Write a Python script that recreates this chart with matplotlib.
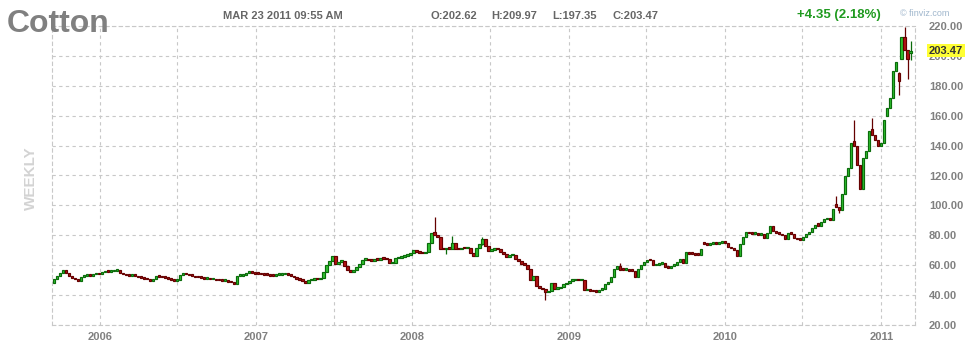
import matplotlib
matplotlib.use("Agg")
import matplotlib.pyplot as plt
import matplotlib.dates as mdates
import pandas as pd

# weekly cotton candles, Sep 2005 .. Mar 2011
opens = [
    48.0, 51.0, 53.0, 55.0, 56.5, 55.0, 53.0, 51.5, 50.5, 49.2,
    52.4, 52.8, 53.4, 53.0, 53.8, 54.3, 54.0, 55.2, 55.6, 55.4,
    56.0, 56.3, 56.8, 55.0, 54.0, 53.2, 52.8, 53.4, 53.0, 52.0,
    51.5, 51.0, 50.6, 49.6, 51.0, 52.6, 52.2, 52.0, 51.6, 51.0,
    50.4, 49.4, 50.2, 53.6, 54.0, 53.8, 53.2, 52.8, 52.0, 51.8,
    51.4, 51.0, 51.2, 50.6, 50.8, 50.0, 49.8, 49.6, 49.8, 49.0,
    48.6, 47.6, 52.8, 53.0, 53.6, 55.0, 56.0, 55.0, 54.4, 54.2,
    53.8, 53.6, 53.4, 53.0, 52.8, 53.4, 53.6, 53.8, 54.0, 53.6,
    53.0, 52.0, 51.0, 50.4, 49.6, 48.4, 49.8, 50.4, 50.8, 50.6,
    51.2, 55.6, 59.8, 62.6, 66.0, 61.0, 62.2, 62.6, 59.2, 57.0,
    55.6, 57.0, 58.5, 61.0, 63.8, 64.0, 63.2, 63.0, 63.6, 63.4,
    64.4, 64.2, 64.0, 61.2, 61.6, 64.6, 65.0, 65.6, 66.4, 67.0,
    68.2, 70.0, 68.6, 68.4, 68.0, 69.0, 75.0, 82.4, 80.4, 78.6,
    71.0, 70.6, 71.4, 70.8, 74.6, 71.0, 70.6, 71.6, 71.2, 71.8,
    68.0, 66.4, 71.8, 74.0, 77.6, 72.6, 69.8, 70.4, 70.8, 70.6,
    68.8, 67.6, 65.4, 66.6, 67.0, 64.2, 62.6, 61.0, 60.2, 57.2,
    50.0, 53.0, 46.4, 44.6, 43.8, 41.8, 42.8, 48.0, 44.0, 44.6,
    45.2, 47.2, 48.4, 49.6, 49.8, 50.4, 50.0, 50.2, 43.2, 44.0,
    43.0, 42.6, 42.2, 43.6, 44.0, 47.2, 48.8, 51.8, 57.2, 59.6,
    57.0, 56.8, 57.2, 56.4, 56.2, 52.0, 57.4, 60.0, 62.0, 63.6,
    63.2, 59.8, 60.2, 61.0, 61.8, 58.6, 58.2, 59.4, 60.2, 62.0,
    64.2, 61.2, 68.6, 67.8, 67.4, 67.0, 66.8, 74.6, 74.2, 73.8,
    74.2, 74.6, 74.2, 75.0, 75.4, 74.8, 72.0, 71.4, 70.0, 66.2,
    74.0, 78.6, 82.0, 81.4, 81.0, 81.6, 80.2, 80.8, 78.2, 81.4,
    86.0, 83.0, 81.8, 81.0, 80.0, 77.4, 81.8, 81.0, 78.4, 77.4,
    77.0, 79.0, 80.6, 82.4, 84.6, 88.0, 86.4, 88.6, 90.6, 91.8,
    90.2, 101.2, 98.8, 97.2, 107.3, 119.6, 125.1, 142.9, 139.6, 127.3,
    111.1, 131.8, 136.2, 151.1, 147.3, 144.0, 140.0, 141.8, 159.6, 165.1,
    171.8, 189.6, 188.4, 198.0, 212.4, 204.0, 202.2,
]
closes = [
    51.0, 53.0, 55.0, 56.5, 55.0, 53.0, 51.5, 50.5, 49.2, 52.4,
    52.8, 53.4, 53.0, 53.8, 54.3, 54.0, 55.2, 55.6, 55.4, 56.0,
    56.3, 56.8, 55.0, 54.0, 53.2, 52.8, 53.4, 53.0, 52.0, 51.5,
    51.0, 50.6, 49.6, 51.0, 52.6, 52.2, 52.0, 51.6, 51.0, 50.4,
    49.4, 50.2, 53.6, 54.0, 53.8, 53.2, 52.8, 52.0, 51.8, 51.4,
    51.0, 51.2, 50.6, 50.8, 50.0, 49.8, 49.6, 49.8, 49.0, 48.6,
    47.6, 52.8, 53.0, 53.6, 55.0, 56.0, 55.0, 54.4, 54.2, 53.8,
    53.6, 53.4, 53.0, 52.8, 53.4, 53.6, 53.8, 54.0, 53.6, 53.0,
    52.0, 51.0, 50.4, 49.6, 48.4, 49.8, 50.4, 50.8, 50.6, 51.2,
    55.6, 59.8, 62.6, 66.0, 61.0, 62.2, 62.6, 59.2, 57.0, 55.6,
    57.0, 58.5, 61.0, 63.8, 64.0, 63.2, 63.0, 63.6, 63.4, 64.4,
    64.2, 64.0, 61.2, 61.6, 64.6, 65.0, 65.6, 66.4, 67.0, 68.2,
    70.0, 68.6, 68.4, 68.0, 69.0, 75.0, 81.6, 80.4, 78.6, 71.0,
    70.6, 71.4, 70.8, 74.6, 71.0, 70.6, 71.6, 71.2, 71.8, 68.0,
    66.4, 71.8, 74.0, 77.6, 72.6, 69.8, 70.4, 70.8, 70.6, 68.8,
    67.6, 65.4, 66.6, 67.0, 64.2, 62.6, 61.0, 60.2, 57.2, 50.0,
    53.0, 46.4, 44.6, 43.8, 41.8, 42.8, 48.0, 44.0, 44.6, 45.2,
    47.2, 48.4, 49.6, 49.8, 50.4, 50.0, 50.2, 43.2, 44.0, 43.0,
    42.6, 42.2, 43.6, 44.0, 47.2, 48.8, 51.8, 57.2, 59.6, 57.0,
    56.8, 57.2, 56.4, 56.2, 52.0, 57.4, 60.0, 62.0, 63.6, 63.2,
    59.8, 60.2, 61.0, 61.8, 58.6, 58.2, 59.4, 60.2, 62.0, 64.2,
    61.2, 68.6, 67.8, 67.4, 67.0, 66.8, 70.6, 74.2, 73.8, 74.2,
    74.6, 74.2, 75.0, 75.4, 74.8, 72.0, 71.4, 70.0, 66.2, 74.0,
    78.6, 82.0, 81.4, 81.0, 81.6, 80.2, 80.8, 78.2, 81.4, 86.0,
    83.0, 81.8, 81.0, 80.0, 77.4, 81.8, 81.0, 78.4, 77.4, 77.0,
    79.0, 80.6, 82.4, 84.6, 86.8, 86.4, 88.6, 90.6, 91.8, 90.2,
    97.8, 98.8, 97.2, 107.3, 119.6, 125.1, 141.8, 139.6, 127.3, 111.1,
    131.8, 136.2, 149.6, 147.3, 144.0, 140.0, 141.8, 157.3, 165.1, 171.8,
    189.6, 196.2, 182.9, 212.4, 204.0, 197.8, 203.5,
]
# visible wicks only: bar index -> (high, low)
wicks = {
    127: (92.4, 80.0), 131: (71.6, 67.3), 133: (79.4, 70.6), 143: (79.0, 73.8),
    164: (43.0, 36.5), 189: (61.8, 56.6), 261: (106.0, 98.6), 262: (99.0, 95.0),
    267: (157.3, 139.4), 273: (158.4, 147.0), 282: (189.0, 174.0),
    284: (219.6, 203.8), 285: (204.2, 184.4), 286: (210.0, 197.3),
}
first_week = "2005-09-16"
year_labels = ["2006", "2007", "2008", "2009", "2010", "2011"]
price_ticks = [20, 40, 60, 80, 100, 120, 140, 160, 180, 200, 220]
last_price = 203.47

GREEN, GREEN_EDGE = "#2fc42f", "#0b6b0b"
RED, RED_EDGE = "#b51414", "#650000"
GRID = "#c8c8c8"
GRAY = "#808080"

W, H = 972, 350
dates = pd.date_range(first_week, periods=len(closes), freq="7D")
xs = mdates.date2num(dates)

fig = plt.figure(figsize=(W / 100, H / 100), dpi=100)
ax = fig.add_axes([52 / W, 25 / H, (915 - 52) / W, (325 - 26) / H])

for i, (x, o, c) in enumerate(zip(xs, opens, closes)):
    up = c >= o
    face, edge = (GREEN, GREEN_EDGE) if up else (RED, RED_EDGE)
    if i in wicks:
        hi, lo = wicks[i]
        ax.vlines(x, lo, hi, color=edge, linewidth=0.9, zorder=2)
    lo_b = min(o, c)
    h = max(abs(c - o), 1.1)
    ax.bar(x, h, bottom=lo_b, width=5.8, color=face, edgecolor=edge,
           linewidth=0.85, zorder=3)

ax.set_ylim(20, 220)
ax.set_xlim(mdates.date2num(pd.Timestamp("2005-09-11")),
            mdates.date2num(pd.Timestamp("2011-03-21")))

ax.set_yticks(price_ticks)
ax.set_yticklabels([f"{v:.2f}" for v in price_ticks])
ax.yaxis.tick_right()

year_pos = mdates.date2num([pd.Timestamp(f"{y}-01-01") for y in year_labels])
mid_pos = mdates.date2num([pd.Timestamp(f"{int(y) - 1}-07-01") for y in year_labels[1:]])
ax.set_xticks(year_pos)
ax.set_xticklabels(year_labels)
ax.set_xticks(mid_pos, minor=True)

ax.tick_params(axis="both", which="both", length=0, colors=GRAY)
ax.tick_params(axis="y", pad=10)
ax.tick_params(axis="x", pad=5)
for lab in ax.get_xticklabels() + ax.get_yticklabels():
    lab.set_fontsize(8)
    lab.set_fontweight("bold")
    lab.set_fontfamily("Liberation Sans")
for lab in ax.get_yticklabels():
    lab.set_horizontalalignment("left")

ax.grid(True, which="both", color=GRID, linestyle=(0, (3, 3)), linewidth=0.8)
ax.set_axisbelow(True)
for s in ax.spines.values():
    s.set_color(GRID)
    s.set_linestyle((0, (3, 3)))
    s.set_linewidth(0.8)

# price tag on the right axis
ax.annotate(f"{last_price:.2f}", xy=(1, last_price), xycoords=("axes fraction", "data"),
            xytext=(10, 0), textcoords="offset points", va="center", ha="left",
            fontsize=8, fontweight="bold", color="#333333", family="Liberation Sans",
            bbox=dict(boxstyle="square,pad=0.15", fc="#ffff33", ec="none"))

# header texts
fig.text(7 / W, 1 - 24 / H, "Cotton", fontsize=23, fontweight="bold", color=GRAY,
         family="Liberation Sans", va="center", ha="left")
fig.text(223 / W, 1 - 16 / H, "MAR 23 2011 09:55 AM", fontsize=8, fontweight="bold",
         color="#666666", family="Liberation Sans", va="center")
for x0, t in [(430, "O:202.62"), (491, "H:209.97"), (552, "L:197.35"), (612, "C:203.47")]:
    fig.text(x0 / W, 1 - 16 / H, t, fontsize=8, fontweight="bold", color="#666666",
             family="Liberation Sans", va="center")
fig.text(797 / W, 1 - 15 / H, "+4.35 (2.18%)", fontsize=9.5, fontweight="bold",
         color="#1f9a1f", family="Liberation Sans", va="center")
fig.text(900 / W, 1 - 14 / H, "\u00a9 finviz.com", fontsize=6.5, color="#9fb6cc",
         family="Liberation Sans", va="center")
fig.text(31 / W, 1 - 178 / H, "WEEKLY", fontsize=11, fontweight="bold", color="#d3d3d3",
         family="Liberation Sans", rotation=90, va="center", ha="center")

fig.savefig("out.png", dpi=100)
